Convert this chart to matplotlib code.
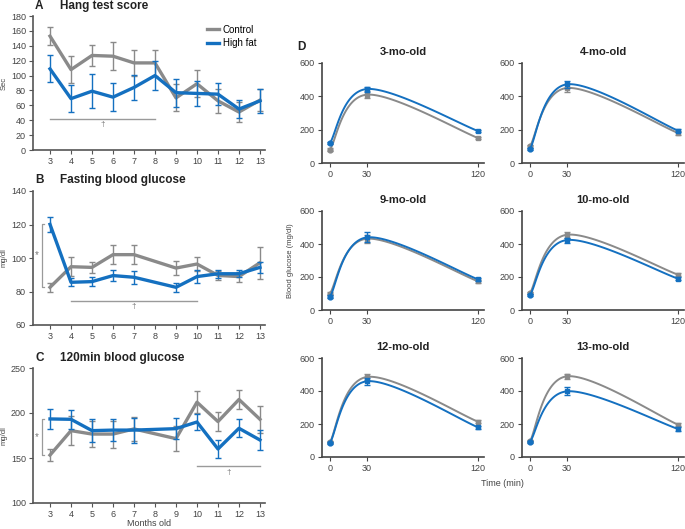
import numpy as np
import matplotlib
matplotlib.use("Agg")
import matplotlib.pyplot as plt
from matplotlib.lines import Line2D

plt.rcParams["font.family"] = ["Liberation Sans", "DejaVu Sans"]

GREY = "#8a8a8a"
BLUE = "#1470c0"
AXIS = "#555555"

# ---- panel A: hang test score ----
hang_months = [3, 4, 5, 6, 7, 8, 9, 10, 11, 12, 13]
hang_ctrl = [153, 108, 127, 126, 117, 117, 70, 89, 66, 51, 67]
hang_ctrl_err = [12, 18, 14, 19, 17, 17, 18, 18, 16, 14, 15]
hang_hf = [109, 69, 79, 71, 84, 100, 77, 76, 75, 55, 66]
hang_hf_err = [18, 18, 23, 19, 17, 19, 19, 17, 15, 12, 16]

# ---- panel B: fasting blood glucose ----
glu_months = [3, 4, 5, 6, 7, 9, 10, 11, 12, 13]
fast_ctrl = [82.5, 94.8, 94.4, 102, 102, 94, 96.4, 89.6, 88.9, 97.2]
fast_ctrl_err = [2.8, 5.8, 3.4, 5.6, 5.6, 4, 4, 2.5, 3, 9.5]
fast_hf = [120.1, 85.5, 85.9, 89.5, 88.5, 82.5, 88.9, 90.6, 90.6, 94.4]
fast_hf_err = [4.5, 2.3, 2.5, 3.2, 4, 2.6, 4, 2.4, 2.1, 3.2]

# ---- panel C: 120 min blood glucose ----
g120_ctrl = [153.2, 180.4, 176.6, 176.6, 182.3, 171.5, 212, 190.5, 215, 193]
g120_ctrl_err = [7, 16, 14, 15, 13, 14, 12.5, 11, 11, 15]
g120_hf = [193.4, 193, 180.4, 181, 181, 182.6, 190, 160, 183, 170]
g120_hf_err = [11, 10.5, 13, 12, 14, 12, 8.5, 10, 10, 11]

# ---- panel D: glucose tolerance curves ----
gtt_time = [0, 30, 120]
gtt_titles = ["3-mo-old", "4-mo-old", "9-mo-old", "10-mo-old", "12-mo-old", "13-mo-old"]
gtt_ctrl = [
    [80, 410, 150],
    [100, 450, 180],
    [100, 432, 174],
    [102, 456, 214],
    [89, 485, 214],
    [95, 489, 196],
]
gtt_ctrl_err = [
    [8, 20, 8],
    [10, 25, 12],
    [8, 25, 10],
    [8, 18, 10],
    [6, 20, 10],
    [6, 15, 10],
]
gtt_hf = [
    [120, 444, 192],
    [84, 472, 194],
    [80, 440, 186],
    [90, 424, 190],
    [85, 459, 180],
    [91, 398, 170],
]
gtt_hf_err = [
    [6, 15, 8],
    [8, 20, 10],
    [8, 30, 10],
    [6, 15, 8],
    [6, 20, 8],
    [6, 25, 10],
]

FIG_W, FIG_H = 685, 529


def px_axes(fig, left, top, right, bottom):
    """Pixel box -> axes in figure fractions."""
    return fig.add_axes([
        left / FIG_W,
        1 - bottom / FIG_H,
        (right - left) / FIG_W,
        (bottom - top) / FIG_H,
    ])


def px_text(fig, x, y, s, **kw):
    fig.text(x / FIG_W, 1 - y / FIG_H, s, **kw)


def style_axes(ax, color=AXIS):
    for side in ("top", "right"):
        ax.spines[side].set_visible(False)
    for side in ("left", "bottom"):
        ax.spines[side].set_color(color)
        ax.spines[side].set_linewidth(1.2)
    ax.tick_params(
        direction="out", length=3, width=0.8, color=color,
        labelsize=6.5, labelcolor="#444444", pad=2,
    )


def month_panel(ax, x, ctrl, ctrl_err, hf, hf_err, ylim, yticks, ylabel):
    ax.errorbar(
        x, ctrl, yerr=ctrl_err, color=GREY, lw=2.4, elinewidth=1.0,
        capsize=2, capthick=1.0, zorder=2,
    )
    ax.errorbar(
        x, hf, yerr=hf_err, color=BLUE, lw=2.4, elinewidth=1.0,
        capsize=2, capthick=1.0, zorder=3,
    )
    ax.set_xlim(2.19, 13.24)
    ax.set_xticks(range(3, 14))
    ax.set_ylim(*ylim)
    ax.set_yticks(yticks)
    ax.set_ylabel(ylabel, fontsize=5.5, color="#444444")
    # label sits at x = 8 px in the figure; the axes start at 33 px
    ax.yaxis.set_label_coords(-25 / 232, 0.5)
    style_axes(ax)


def sig_line(ax, x0, x1, y, dagger_y):
    ax.plot([x0, x1], [y, y], color="#9a9a9a", lw=1.0)
    ax.text((x0 + x1) / 2, dagger_y, "\u2020", ha="center", va="center",
            fontsize=6, color="#777777")


def bracket(ax, x, y0, y1, star_y):
    ax.plot([x + 0.1, x, x, x + 0.1], [y0, y0, y1, y1], color="#9a9a9a",
            lw=0.9, clip_on=False)
    ax.text(x - 0.22, star_y, "*", ha="center", va="center", fontsize=7,
            color="#777777")


def panel_title(fig, y, letter, title):
    px_text(fig, 35, y, letter, fontsize=8.5, fontweight="bold",
            ha="left", va="center", color="#222222")
    px_text(fig, 60, y, title, fontsize=8.5, fontweight="bold",
            ha="left", va="center", color="#222222")


def smooth_curve(xs, ys, n=60):
    """Excel-style smoothed line (Catmull-Rom Bezier) through the points."""
    pts = np.column_stack([xs, ys]).astype(float)
    padded = np.vstack([pts[0], pts, pts[-1]])
    out = []
    t = np.linspace(0, 1, n)[:, None]
    for i in range(1, len(padded) - 2):
        p0, p1, p2, p3 = padded[i - 1], padded[i], padded[i + 1], padded[i + 2]
        c1 = p1 + (p2 - p0) / 6
        c2 = p2 - (p3 - p1) / 6
        seg = ((1 - t) ** 3 * p1 + 3 * (1 - t) ** 2 * t * c1
               + 3 * (1 - t) * t ** 2 * c2 + t ** 3 * p2)
        out.append(seg)
    out = np.vstack(out)
    return out[:, 0], out[:, 1]


fig = plt.figure(figsize=(FIG_W / 100, FIG_H / 100), dpi=100)

# A
ax_a = px_axes(fig, 33, 16, 265, 150)
month_panel(ax_a, hang_months, hang_ctrl, hang_ctrl_err, hang_hf, hang_hf_err,
            (0, 180), range(0, 181, 20), "Sec")
sig_line(ax_a, 3, 8, 41, 34)
handles = [Line2D([], [], color=GREY, lw=2.4),
           Line2D([], [], color=BLUE, lw=2.4)]
ax_a.legend(handles, ["Control", "High fat"], loc="upper right",
            bbox_to_anchor=(1.0, 1.0), frameon=False, fontsize=7,
            handlelength=1.3, handletextpad=0.35, labelspacing=0.35)
panel_title(fig, 6, "A", "Hang test score")

# B
ax_b = px_axes(fig, 33, 191, 265, 325)
month_panel(ax_b, glu_months, fast_ctrl, fast_ctrl_err, fast_hf, fast_hf_err,
            (60, 140), range(60, 141, 20), "mg/dl")
sig_line(ax_b, 4, 10, 74.5, 71)
bracket(ax_b, 2.6, 82.5, 120.5, 101.8)
panel_title(fig, 180, "B", "Fasting blood glucose")

# C
ax_c = px_axes(fig, 33, 368, 265, 503)
month_panel(ax_c, glu_months, g120_ctrl, g120_ctrl_err, g120_hf, g120_hf_err,
            (100, 250), range(100, 251, 50), "mg/dl")
sig_line(ax_c, 10, 13, 141, 134)
bracket(ax_c, 2.6, 153, 193, 173.7)
panel_title(fig, 358, "C", "120min blood glucose")
px_text(fig, 149, 523, "Months old", fontsize=6.5, ha="center",
        va="center", color="#444444")

# D
d_lefts = [322, 522]
d_rows = [(63, 163), (211, 310), (358, 457)]
d_axes = []
for k, title in enumerate(gtt_titles):
    row, col = divmod(k, 2)
    top, bottom = d_rows[row]
    left = d_lefts[col]
    ax = px_axes(fig, left, top, left + 162, bottom)
    for vals, errs, color, z in ((gtt_ctrl[k], gtt_ctrl_err[k], GREY, 2),
                                 (gtt_hf[k], gtt_hf_err[k], BLUE, 3)):
        cx, cy = smooth_curve(gtt_time, vals)
        ax.plot(cx, cy, color=color, lw=1.4, zorder=z)
        ax.errorbar(gtt_time, vals, yerr=errs, fmt="none", ecolor=color,
                    elinewidth=1.0, capsize=2, capthick=1.0, zorder=z)
        ax.plot(gtt_time[:1], vals[:1], "o", color=color, ms=3.5, zorder=z)
        ax.plot(gtt_time[1:], vals[1:], "s", color=color, ms=3.3, zorder=z)
    ax.set_xlim(-6.5, 124.9)
    ax.set_xticks(gtt_time)
    ax.set_ylim(0, 600)
    ax.set_yticks(range(0, 601, 200))
    ax.set_title(title, fontsize=8, fontweight="bold", color="#222222", pad=6)
    style_axes(ax, color="#444444")
    d_axes.append(ax)

d_axes[2].set_ylabel("Blood glucose (mg/dl)", fontsize=5.5, color="#444444",
                     labelpad=4)
px_text(fig, 297, 47, "D", fontsize=8.5, fontweight="bold",
        ha="left", va="center", color="#222222")
px_text(fig, 502, 484, "Time (min)", fontsize=6.5,
        ha="center", va="center", color="#444444")

fig.savefig("out.png", dpi=100)
